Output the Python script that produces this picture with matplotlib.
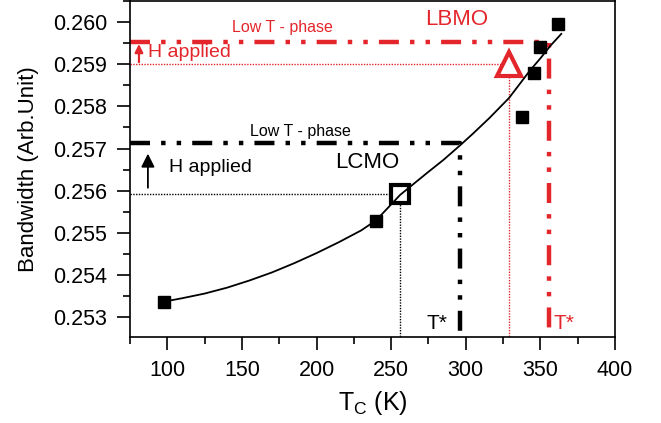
import matplotlib
matplotlib.use("Agg")
import matplotlib.pyplot as plt
from matplotlib.ticker import MultipleLocator, FormatStrFormatter

plt.rcParams['font.family'] = ['Liberation Sans', 'DejaVu Sans']

RED = "#e3262b"

# measured Tc / bandwidth points (filled squares)
tc_points = [98, 240, 338, 346, 350, 362]
bw_points = [0.25337, 0.25528, 0.25774, 0.25879, 0.25941, 0.25995]

# guide curve
curve_tc = [98, 110, 125, 140, 155, 170, 185, 200, 215, 230, 240, 248,
            256, 265, 274, 285, 296, 305, 316, 329, 343, 350, 357, 364]
curve_bw = [0.25337, 0.25345, 0.25356, 0.25370, 0.25387, 0.25406, 0.25428,
            0.25452, 0.25478, 0.25506, 0.25530, 0.25560, 0.25590, 0.25616,
            0.25642, 0.25673, 0.25707, 0.25736, 0.25773, 0.25820, 0.25885,
            0.25914, 0.25945, 0.25972]

# LCMO: open square, T* and low-T phase level
lcmo_tc = 256
lcmo_bw = 0.25592
lcmo_tstar = 296
lcmo_lowt = 0.25712
lcmo_arrow = [0.25607, 0.25688]

# LBMO: open triangle, T* and low-T phase level
lbmo_tc = 329
lbmo_bw = 0.25900
lbmo_tstar = 356
lbmo_lowt = 0.25953
lbmo_arrow = [0.25905, 0.25948]

x_lim = [75, 400]
y_lim = [0.25253, 0.2605]
x_ticks = [100, 150, 200, 250, 300, 350, 400]
y_ticks = [0.253, 0.254, 0.255, 0.256, 0.257, 0.258, 0.259, 0.260]

dash_dot_dot = (0, (4.5, 2.5, 1, 2.5, 1, 2.5))

fig = plt.figure(figsize=(6.61, 4.23), dpi=100)
ax = fig.add_axes([130 / 661, 1 - 337 / 423, 485 / 661, 336 / 423])
x0, y0 = x_lim[0], y_lim[0]

# LCMO guides
ax.plot([x0, lcmo_tc, lcmo_tc], [lcmo_bw, lcmo_bw, y0], color="black",
        lw=1.0, ls=(0, (1, 1)), zorder=1)
ax.plot([x0, lcmo_tstar, lcmo_tstar], [lcmo_lowt, lcmo_lowt, y0],
        color="black", lw=3.2, ls=dash_dot_dot, zorder=2)

# LBMO guides
ax.plot([x0, lbmo_tc, lbmo_tc], [lbmo_bw, lbmo_bw, y0], color=RED,
        lw=1.0, ls=(0, (1, 1)), zorder=1)
ax.plot([x0, lbmo_tstar, lbmo_tstar], [lbmo_lowt, lbmo_lowt, y0],
        color=RED, lw=3.2, ls=dash_dot_dot, zorder=2)

# open markers
ax.plot([lcmo_tc], [lcmo_bw], marker="s", ms=13, mew=3, mfc="white",
        mec="black", ls="none", zorder=3)
ax.plot([lbmo_tc], [lbmo_bw], marker="^", ms=17, mew=3, mfc="white",
        mec=RED, ls="none", zorder=3)

# curve and data
ax.plot(curve_tc, curve_bw, color="black", lw=1.3, zorder=4)
ax.plot(tc_points, bw_points, marker="s", ms=8, color="black", ls="none",
        zorder=5)

# arrows
ax.annotate("", xy=(87, lcmo_arrow[1]), xytext=(87, lcmo_arrow[0]),
            arrowprops=dict(arrowstyle="-|>", color="black", lw=1.3,
                            mutation_scale=20, shrinkA=0, shrinkB=0))
ax.annotate("", xy=(81, lbmo_arrow[1]), xytext=(81, lbmo_arrow[0]),
            arrowprops=dict(arrowstyle="-|>", color=RED, lw=1.6,
                            mutation_scale=12, shrinkA=0, shrinkB=0))

# labels
ax.text(101, 0.25655, "H applied", fontsize=14, ha="left", va="center")
ax.text(87, 0.25928, "H applied", fontsize=14, color=RED, ha="left",
        va="center")
ax.text(189, 0.25741, "Low T - phase", fontsize=11.5, ha="center",
        va="center")
ax.text(177, 0.25986, "Low T - phase", fontsize=11.5, color=RED,
        ha="center", va="center")
ax.text(234, 0.25666, "LCMO", fontsize=16, ha="center", va="center")
ax.text(294, 0.26005, "LBMO", fontsize=16, color=RED, ha="center",
        va="center")
ax.text(281, 0.25285, "T*", fontsize=15, ha="center", va="center")
ax.text(366, 0.25285, "T*", fontsize=15, color=RED, ha="center",
        va="center")

ax.set_xlim(x_lim)
ax.set_ylim(y_lim)
ax.set_xticks(x_ticks)
ax.set_yticks(y_ticks)
ax.xaxis.set_minor_locator(MultipleLocator(25))
ax.yaxis.set_minor_locator(MultipleLocator(0.0005))
ax.yaxis.set_major_formatter(FormatStrFormatter("%.3f"))
ax.tick_params(which="major", direction="out", length=9.6, width=1.2,
               pad=7, labelsize=15.5, top=False, right=False)
ax.tick_params(which="minor", direction="out", length=5, width=1.2,
               top=False, right=False)
for s in ax.spines.values():
    s.set_linewidth(1.2)

ax.set_xlabel(r"T$_\mathregular{C}$ (K)", fontsize=18, labelpad=6)
ax.set_ylabel("Bandwidth (Arb.Unit)", fontsize=16, labelpad=10)

fig.savefig("out.png", dpi=100)
